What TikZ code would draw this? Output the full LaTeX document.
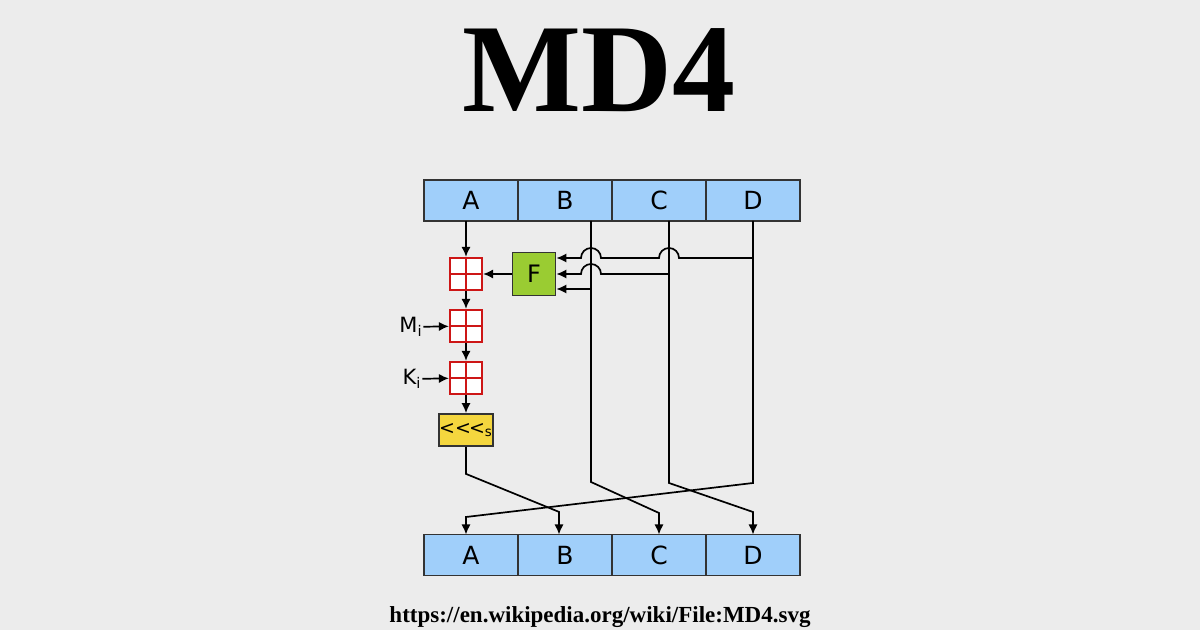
\documentclass[tikz,border=0pt]{standalone}
\usepackage{fontspec}
\setmainfont{Liberation Serif}
\newfontfamily\diagfont{DejaVu Sans}
\usetikzlibrary{arrows.meta,positioning,calc}
\definecolor{bggray}{RGB}{236,236,236}
\definecolor{regblue}{RGB}{160,207,250}
\definecolor{fgreen}{RGB}{154,204,50}
\definecolor{rotyellow}{RGB}{244,214,62}
\definecolor{addred}{RGB}{205,22,22}

\begin{document}
\begin{tikzpicture}[
  x=0.5pt, y=-0.5pt, >={Latex[length=5pt,width=4.6pt]}, line width=0.85pt,
  node distance=0pt,
  reg/.style={draw=black!80, line width=0.9pt, fill=regblue, outer sep=0pt,
              minimum width=47pt, minimum height=20.5pt, inner sep=0pt,
              font=\diagfont\fontsize{12.5}{14}\selectfont},
  adder/.style={draw=addred, line width=1.1pt, fill=white, minimum size=16pt,
                inner sep=0pt, path picture={
                \draw[addred, line width=1.1pt]
                  (path picture bounding box.north) -- (path picture bounding box.south)
                  (path picture bounding box.west) -- (path picture bounding box.east);}},
  fbox/.style={draw=black!80, line width=0.9pt, fill=fgreen, minimum size=21.5pt,
               inner sep=0pt, font=\diagfont\fontsize{12}{13}\selectfont},
  rotbox/.style={draw=black!80, line width=0.9pt, fill=rotyellow, minimum width=26.5pt,
                 minimum height=16pt, inner sep=0pt,
                 font=\diagfont\fontsize{9.5}{10}\selectfont},
  lbl/.style={inner sep=0pt, font=\diagfont\fontsize{10.5}{12}\selectfont}]
\fill[bggray] (0,0) rectangle (1200,630);
\useasboundingbox (0,0) rectangle (1200,630);

\node[anchor=base] (title) at (599,112) {\bfseries\fontsize{63}{63}\selectfont MD4};
\node[anchor=base] (src) at (600,623)
  {\bfseries\fontsize{11.5}{13}\selectfont https://en.wikipedia.org/wiki/File:MD4.svg};

\node[reg] (a0) at (471,200.5) {A};
\node[reg, right=of a0] (b0) {B};
\node[reg, right=of b0] (c0) {C};
\node[reg, right=of c0] (d0) {D};
\node[reg] (a1) at (471,555) {A};
\node[reg, right=of a1] (b1) {B};
\node[reg, right=of b1] (c1) {C};
\node[reg, right=of c1] (d1) {D};

\node[adder] (add1) at (466,274) {};
\node[adder] (add2) at (466,326) {};
\node[adder] (add3) at (466,378) {};
\node[rotbox] (rot) at (466,430) {<<\kern-1pt<\textsubscript{s}};
\node[fbox] (F) at (534,274) {F};
\node[lbl] (Mi) at (411,327) {M\textsubscript{i}};
\node[lbl] (Ki) at (412,379) {K\textsubscript{i}};

\coordinate (btap) at ($(b0.south)+(26,0)$);
\coordinate (ctap) at ($(c0.south)+(10,0)$);
\coordinate (dtap) at ($(d0.south)+(0,37)$);
\coordinate (cfeed) at (ctap |- F.east);
\coordinate (bfeed) at ($(btap)+(0,68)$);
\coordinate (bin) at ($(b1.north)+(-6,0)$);

\draw[->] (add1 |- a0.south) -- (add1);
\draw[->] (add1) -- (add2);
\draw[->] (add2) -- (add3);
\draw[->] (add3) -- (rot);
\draw[->] (F) -- (add1);
\draw[->] (Mi) -- (add2);
\draw[->] (Ki) -- (add3);

\draw[->] (dtap) -- ($(ctap |- dtap)+(10,0)$) arc[start angle=0, end angle=-180, radius=10]
  -- ($(btap |- dtap)+(10,0)$) arc[start angle=0, end angle=-180, radius=10] -- (F.east |- dtap);
\draw[->] (cfeed) -- ($(btap |- cfeed)+(10,0)$) arc[start angle=0, end angle=-180, radius=10]
  -- (F.east);
\draw[->] (bfeed) -- (F.east |- bfeed);

\draw[->] (btap) -- ++(0,261) -- ++(68,31) -- (c1.north);
\draw[->] (ctap) -- ++(0,262) -- ++(84,29) -- (d1.north);
\draw[->] (d0.south) -- ++(0,262) -- ++(-287,34) -- (add1 |- a1.north);
\draw[->] (rot.south) -- ++(0,27) -- ++(93,38) -- (bin);
\end{tikzpicture}
\end{document}
